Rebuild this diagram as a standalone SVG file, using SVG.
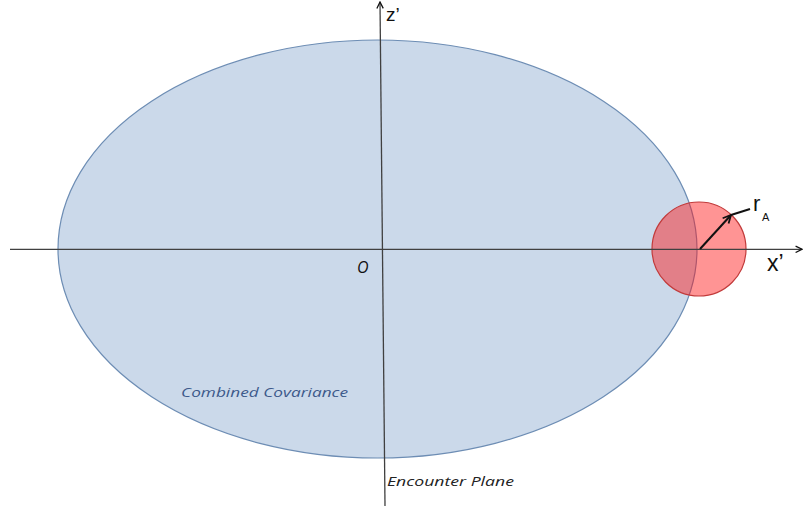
<svg xmlns="http://www.w3.org/2000/svg" width="804" height="510" viewBox="0 0 804 510">
<style>
.axis{stroke:#404040;stroke-width:1.3;fill:none}
.lbl{font-family:"Liberation Sans",Arial,sans-serif;fill:#111}
.it{font-family:"Open Sans","Liberation Sans",sans-serif;font-style:italic}
</style>
<defs>
<marker id="open" viewBox="0 0 10 10" refX="9" refY="5" markerWidth="8" markerHeight="8" markerUnits="userSpaceOnUse" orient="auto">
<polyline points="1,1 9,5 1,9" fill="none" stroke="#111" stroke-width="1.6"/>
</marker>
<marker id="open2" viewBox="0 0 10 10" refX="9" refY="5" markerWidth="10" markerHeight="10" markerUnits="userSpaceOnUse" orient="auto">
<polyline points="1,1 9,5 1,9" fill="none" stroke="#111" stroke-width="1.8"/>
</marker>
</defs>
<rect width="804" height="510" fill="#ffffff"/>
<g id="covariance">
<ellipse cx="377.5" cy="249" rx="319.5" ry="209" fill="#cbd9ea" stroke="#6d8db4" stroke-width="1.2"/>
<text class="it" x="181" y="397" font-size="13.5" fill="#3d5a8a" textLength="167" lengthAdjust="spacingAndGlyphs">Combined Covariance</text>
</g>
<g id="object">
<circle cx="699" cy="249" r="47" fill="#ff1212" fill-opacity="0.45" stroke="#c23a3a" stroke-width="1.2"/>
</g>
<g id="connectors">
<line class="axis" x1="10" y1="249.3" x2="802" y2="249.3" marker-end="url(#open)"/>
<line class="axis" x1="385" y1="506" x2="380" y2="2" marker-end="url(#open)"/>
<line x1="700" y1="249" x2="731" y2="215" stroke="#111" stroke-width="2" marker-end="url(#open2)"/>
<line x1="731" y1="215" x2="750" y2="209" stroke="#111" stroke-width="2"/>
</g>
<g id="labels">
<text class="lbl" x="386" y="21" font-size="19">z’</text>
<text class="lbl" x="767" y="271" font-size="23">x’</text>
<text class="lbl" x="753" y="211" font-size="22">r</text>
<text class="lbl" x="762" y="221" font-size="11">A</text>
<text class="it" x="357" y="273" font-size="16" fill="#111">O</text>
<text class="it" x="387" y="486" font-size="13.5" fill="#222" textLength="127" lengthAdjust="spacingAndGlyphs">Encounter Plane</text>
</g>
</svg>
